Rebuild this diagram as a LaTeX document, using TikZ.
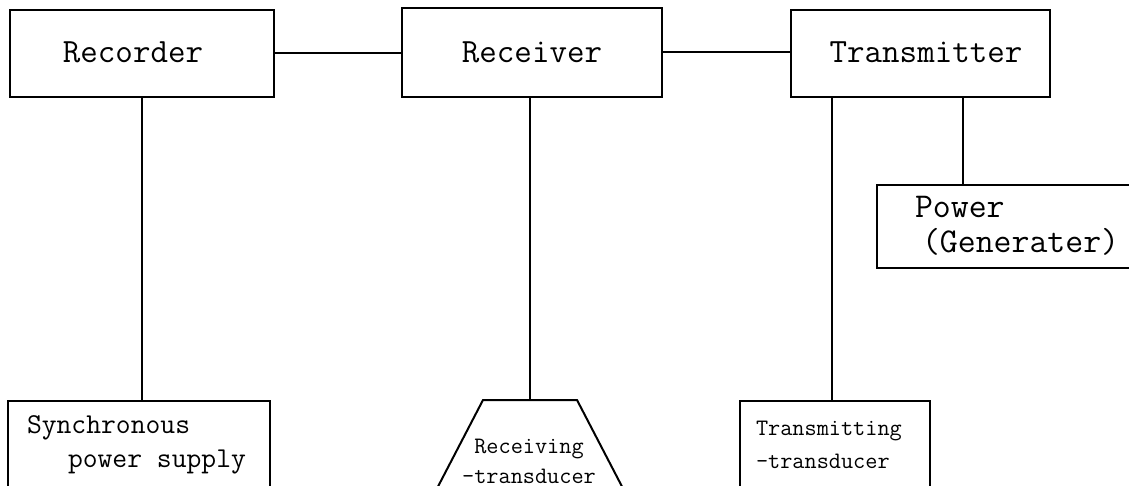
\documentclass[tikz,border=0pt]{standalone}
\usepackage{fontspec}
\usetikzlibrary{calc}
\begin{document}
\begin{tikzpicture}[x=0.5pt,y=-0.5pt, line width=1pt,
  box/.style={draw, rectangle, inner sep=0pt},
  heavy/.style={},
  toptxt/.style={font=\fontsize{17}{20}\selectfont\ttfamily\addfontfeatures{FakeBold=0.6}, inner sep=0pt},
  pwtxt/.style={font=\fontsize{17.4}{20}\selectfont\ttfamily\addfontfeatures{FakeBold=0.6}, inner sep=0pt},
  synctxt/.style={font=\fontsize{14.4}{17}\selectfont\ttfamily\addfontfeatures{FakeBold=0.8}, inner sep=0pt},
  smalltxt/.style={font=\fontsize{11.8}{14}\selectfont\ttfamily\addfontfeatures{FakeBold=1}, inner sep=0pt}]
\useasboundingbox (0,0) rectangle (1129,486);
\clip (0,0) rectangle (1129,486);
% top boxes
\node[box, minimum width=132pt, minimum height=43.5pt] (rec) at (142,53.5) {};
\node[box, minimum width=130pt, minimum height=44.5pt] (rcv) at (532,52.5) {};
\node[box, minimum width=129.5pt, minimum height=43.5pt] (trn) at (920.5,53.5) {};
\node[toptxt] (recT) at (133,52) {Recorder};
\node[toptxt] (rcvT) at (532,52) {Receiver};
\node[toptxt] (trnT) at (926,52) {Transmitter};
% power box
\node[box, minimum width=131.5pt, minimum height=41.5pt] (pwr) at (1008.5,226.5) {};
\node[pwtxt, anchor=west] (pw1) at (914,207) {Power};
\node[pwtxt, anchor=west] (pw2) at (921,242) {(Generater)};
% bottom boxes
\node[box, minimum width=131pt, minimum height=49.5pt] (sync) at (139,450.5) {};
\node[synctxt, anchor=west] (s1) at (26,428) {Synchronous};
\node[synctxt, anchor=west] (s2) at (67,462) {power supply};
\node[box, minimum width=95pt, minimum height=49.5pt] (tt) at (835,450.5) {};
\node[smalltxt, anchor=west] (tt1) at (755,431) {Transmitting};
\node[smalltxt, anchor=west] (tt2) at (755,461) {-transducer};
% receiving transducer (trapezoid)
\coordinate (trtop) at (530,400);
\coordinate (trl) at (483,400);
\coordinate (trr) at (577,400);
\draw ($(trl)+(-52,100)$) -- (trl) -- (trr) -- ($(trr)+(52,100)$);
\node[smalltxt] (rt1) at (529,449) {Receiving};
\node[smalltxt] (rt2) at (529,476) {-transducer};
% connectors
\coordinate (t1) at (832,97);
\coordinate (t2) at (963,97);
\draw (rec.east) -- (rec.east -| rcv.west);
\draw (rcv.east) -- (rcv.east -| trn.west);
\draw (rec.south) -- (rec.south |- sync.north);
\draw (trtop |- rcv.south) -- (trtop);
\draw (t1) -- (t1 |- tt.north);
\draw (t2) -- (t2 |- pwr.north);
\end{tikzpicture}
\end{document}
